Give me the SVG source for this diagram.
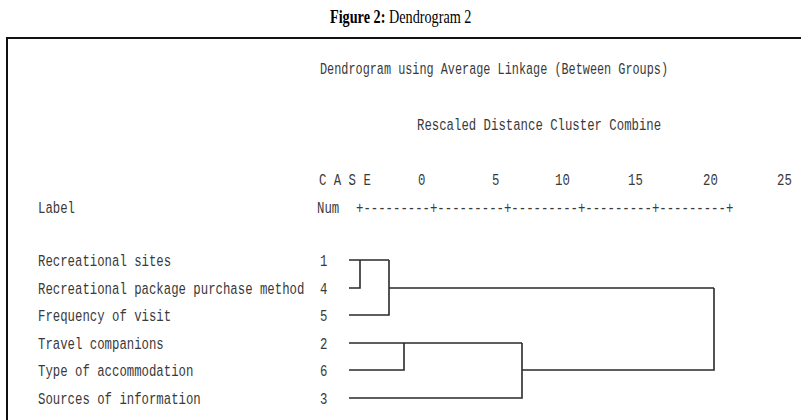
<svg xmlns="http://www.w3.org/2000/svg" width="801" height="420" viewBox="0 0 801 420">
  <style>
    .cap { font-family: "Liberation Serif", "Times New Roman", serif; font-size: 18px; fill: #000; }
    .mono { font-family: "Liberation Mono", "Courier New", monospace; font-size: 17px; fill: #3a3a3a; }
    .link { fill: none; stroke: #2a2a2a; stroke-width: 1.6; }
    .frame { fill: none; stroke: #111; stroke-width: 2; }
  </style>
  <rect width="801" height="420" fill="#fff"/>

  <!-- caption, set in a condensed frame -->
  <g transform="scale(0.79,1)">
    <text class="cap" x="417.7" y="23"><tspan font-weight="bold">Figure 2:</tspan> Dendrogram 2</text>
  </g>

  <!-- output frame (open at right and bottom) -->
  <path class="frame" d="M7,420 V38 H801"/>

  <!-- listing text: tall, narrow monospace (x values are in the condensed frame) -->
  <g transform="scale(0.7255,1)">
    <g id="header">
      <text class="mono" x="441.1" y="74" textLength="479.7" lengthAdjust="spacingAndGlyphs">Dendrogram using Average Linkage (Between Groups)</text>
      <text class="mono" x="574.8" y="130">Rescaled Distance Cluster Combine</text>
    </g>

    <g id="scale">
      <text class="mono" x="439.7" y="185">C A S E</text>
      <text class="mono" x="576.2" y="185">0</text>
      <text class="mono" x="678.2" y="185">5</text>
      <text class="mono" x="765.0" y="185">10</text>
      <text class="mono" x="865.6" y="185">15</text>
      <text class="mono" x="969.0" y="185">20</text>
      <text class="mono" x="1071.0" y="185">25</text>
      <text class="mono" x="52.4" y="213">Label</text>
      <text class="mono" x="437.0" y="213">Num</text>
      <text class="mono" x="490.7" y="213">+---------+---------+---------+---------+---------+</text>
    </g>

    <g id="case-1">
      <text class="mono" x="52.4" y="266">Recreational sites</text>
      <text class="mono" x="441.1" y="266">1</text>
    </g>
    <g id="case-4">
      <text class="mono" x="52.4" y="294">Recreational package purchase method</text>
      <text class="mono" x="441.1" y="294">4</text>
    </g>
    <g id="case-5">
      <text class="mono" x="52.4" y="321">Frequency of visit</text>
      <text class="mono" x="441.1" y="321">5</text>
    </g>
    <g id="case-2">
      <text class="mono" x="52.4" y="349">Travel companions</text>
      <text class="mono" x="441.1" y="349">2</text>
    </g>
    <g id="case-6">
      <text class="mono" x="52.4" y="376">Type of accommodation</text>
      <text class="mono" x="441.1" y="376">6</text>
    </g>
    <g id="case-3">
      <text class="mono" x="52.4" y="404">Sources of information</text>
      <text class="mono" x="441.1" y="404">3</text>
    </g>
  </g>

  <!-- dendrogram links -->
  <g id="links">
    <path class="link" d="M349,260 H389 M349,288 H360 V260"/>
    <path class="link" d="M349,315 H389 V260 M389,288 H714"/>
    <path class="link" d="M349,343 H522 M349,370 H404 V343"/>
    <path class="link" d="M349,398 H522 V343 M522,370 H714 V288"/>
  </g>
</svg>
